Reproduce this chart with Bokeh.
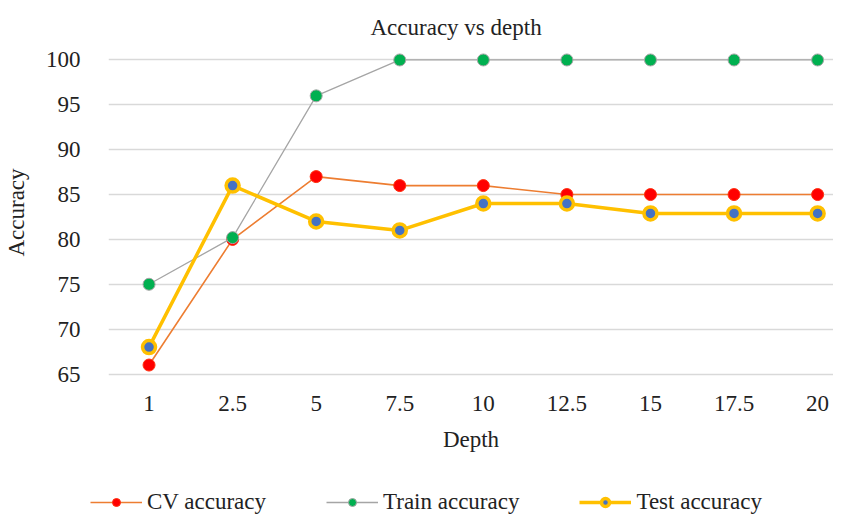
from bokeh.plotting import figure
from bokeh.layouts import column
from bokeh.models import (Range1d, FixedTicker, Legend, LegendItem, ColumnDataSource)
from bokeh.embed import file_html
from bokeh.resources import INLINE

# ---- data ----
depth_labels = ["1", "2.5", "5", "7.5", "10", "12.5", "15", "17.5", "20"]
cv_accuracy = [66, 80, 87, 86, 86, 85, 85, 85, 85]
train_accuracy = [75, 80.2, 96, 100, 100, 100, 100, 100, 100]
test_accuracy = [68, 86, 82, 81, 84, 84, 82.9, 82.9, 82.9]
y_ticks = [65, 70, 75, 80, 85, 90, 95, 100]
series_names = ["CV accuracy", "Train accuracy", "Test accuracy"]

FONT = "Liberation Serif"
TXT = "#222222"
idx = list(range(len(depth_labels)))
src = ColumnDataSource(dict(x=idx, cv=cv_accuracy, train=train_accuracy, test=test_accuracy))
cols = ["cv", "train", "test"]

styles = [
    dict(line=dict(line_color="#ED7D31", line_width=1.6),
         mark=dict(size=12, fill_color="#FF0000", line_color="#FF3010", line_width=1)),
    dict(line=dict(line_color="#A5A5A5", line_width=1.3),
         mark=dict(size=12, fill_color="#00B050", line_color="#A5A5A5", line_width=1)),
    dict(line=dict(line_color="#FFC000", line_width=3.5),
         mark=dict(size=13, fill_color="#4472C4", line_color="#FFC000", line_width=3.5)),
]

p = figure(width=833, height=472, output_backend="svg", toolbar_location=None,
           x_range=Range1d(-0.485, 8.19), y_range=Range1d(64.5, 101.5),
           min_border_left=99, min_border_right=0, min_border_top=46, min_border_bottom=94,
           title="Accuracy vs depth")

p.title.align = "left"
p.title.offset = 262
p.title.standoff = 14
p.title.text_font = FONT
p.title.text_font_size = "23px"
p.title.text_font_style = "normal"
p.title.text_color = TXT

p.outline_line_color = None
p.background_fill_color = "white"
p.border_fill_color = "white"

# axes
p.xaxis.ticker = FixedTicker(ticks=idx)
p.xaxis.major_label_overrides = {i: lab for i, lab in zip(idx, depth_labels)}
p.yaxis.ticker = FixedTicker(ticks=y_ticks)
for ax in (p.xaxis[0], p.yaxis[0]):
    ax.axis_line_color = None
    ax.major_tick_line_color = None
    ax.minor_tick_line_color = None
    ax.major_label_text_font = FONT
    ax.major_label_text_font_size = "23px"
    ax.major_label_text_color = TXT
    ax.axis_label_text_font = FONT
    ax.axis_label_text_font_size = "23px"
    ax.axis_label_text_font_style = "normal"
    ax.axis_label_text_color = TXT
p.xaxis.axis_label = "Depth"
p.yaxis.axis_label = "Accuracy"
p.xaxis.major_label_standoff = 11
p.xaxis.axis_label_standoff = 13
p.yaxis.major_label_standoff = 22
p.yaxis.axis_label_standoff = 14

p.xgrid.grid_line_color = None
p.ygrid.grid_line_color = "#D9D9D9"
p.ygrid.grid_line_width = 1.3

# series (order: CV, Train, Test)
for col, st in zip(cols, styles):
    p.line("x", col, source=src, **st["line"])
    p.scatter("x", col, source=src, **st["mark"])

# ---- legend strip below the chart (series drawn off-range, only their legend shows) ----
p2 = figure(width=833, height=44, output_backend="svg", toolbar_location=None,
            x_range=Range1d(-0.485, 8.19), y_range=Range1d(0, 1),
            x_axis_location=None, y_axis_location=None,
            min_border_left=0, min_border_right=0, min_border_top=0, min_border_bottom=0)
p2.frame_align = False
p2.outline_line_color = None
p2.xgrid.grid_line_color = None
p2.ygrid.grid_line_color = None
p2.background_fill_color = "white"
p2.border_fill_color = "white"

items = []
for name, col, st in zip(series_names, cols, styles):
    lr = p2.line("x", col, source=src, **st["line"])
    mr = p2.scatter("x", col, source=src, **st["mark"])
    items.append(LegendItem(label=name, renderers=[lr, mr]))

legend = Legend(items=items, orientation="horizontal", location=(90, 1))
legend.label_text_font = FONT
legend.label_text_font_size = "23px"
legend.label_text_color = TXT
legend.glyph_width = 52
legend.label_standoff = 5
legend.spacing = 60
legend.padding = 2
legend.margin = 0
legend.border_line_color = None
legend.background_fill_alpha = 0
p2.add_layout(legend, "center")

layout = column(p, p2, spacing=0)
open("out.html", "w").write(file_html(layout, INLINE))
